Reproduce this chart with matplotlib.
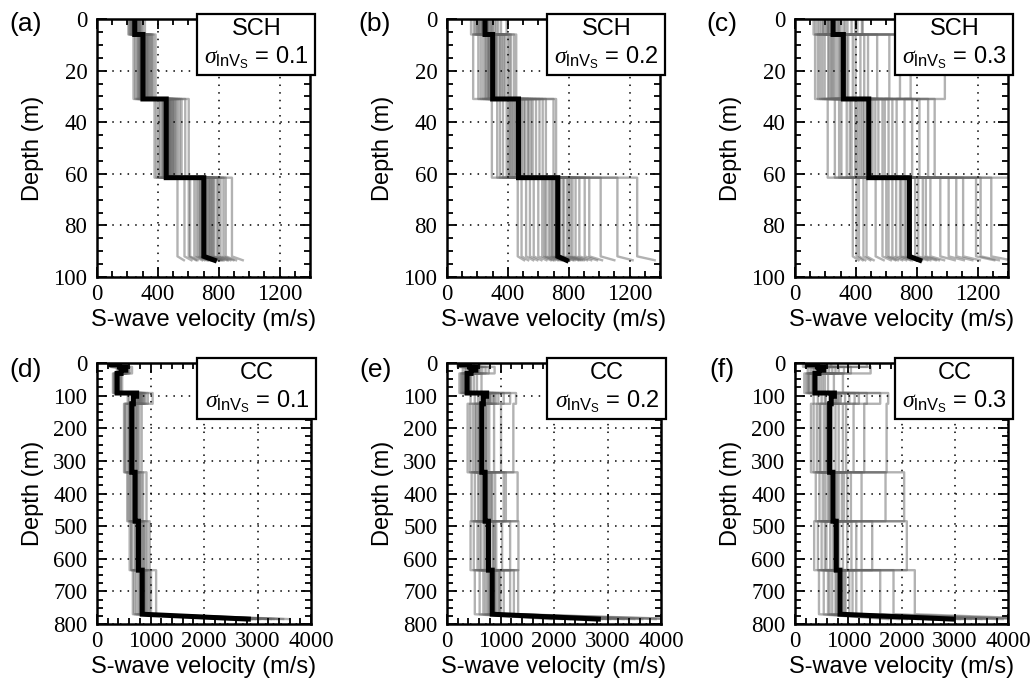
import matplotlib.pyplot as plt
from matplotlib.patches import Rectangle
from matplotlib.ticker import MultipleLocator

plt.rcParams['font.family'] = 'Liberation Sans'
plt.rcParams['mathtext.fontset'] = 'custom'
plt.rcParams['mathtext.rm'] = 'Liberation Sans'
plt.rcParams['mathtext.it'] = 'Liberation Serif:italic'

# ---------------- SCH site ----------------
# layer tops, base of last layer and half-space point (m)
sch_tops = [0, 6, 31, 61.5]
sch_base = 92
sch_hs_depth = 93.5

# median (black) profiles
sch_black_a = [248, 302, 455, 702]
sch_black_hs_a = 772
sch_black_b = [250, 300, 470, 728]
sch_black_hs_b = 785
sch_black_c = [250, 318, 485, 752]
sch_black_hs_c = 820

# randomized profiles, sigma = 0.1 (one list per layer)
a_l1 = [262, 231, 248, 285, 219, 256, 240, 301, 227, 270, 244, 259, 212, 278, 236, 251, 266, 223, 292, 247, 238, 274, 206, 255, 262, 229, 283, 243, 252, 315]
a_l2 = [318, 289, 340, 276, 301, 362, 295, 327, 251, 310, 284, 348, 306, 270, 331, 298, 385, 262, 314, 292, 356, 305, 279, 323, 240, 337, 300, 288, 371, 312]
a_l3 = [480, 432, 512, 455, 391, 498, 470, 556, 441, 427, 505, 462, 580, 414, 489, 451, 530, 476, 378, 466, 520, 447, 603, 485, 438, 497, 459, 544, 405, 473]
a_l4 = [735, 668, 790, 702, 612, 758, 846, 690, 725, 575, 812, 681, 739, 640, 772, 708, 887, 655, 746, 720, 529, 798, 695, 752, 831, 676, 713, 603, 765, 699]
a_hs = [795, 722, 853, 758, 661, 819, 914, 745, 783, 621, 877, 735, 798, 691, 834, 765, 958, 707, 806, 778, 571, 862, 751, 812, 897, 730, 770, 651, 826, 755]

# sigma = 0.2
b_l1 = [271, 214, 246, 312, 188, 263, 229, 355, 203, 287, 238, 255, 176, 301, 222, 249, 279, 196, 336, 242, 231, 294, 158, 258, 268, 210, 323, 236, 252, 392]
b_l2 = [330, 276, 382, 251, 305, 420, 289, 350, 206, 318, 268, 398, 309, 238, 362, 295, 455, 222, 325, 281, 410, 305, 258, 345, 172, 372, 300, 272, 440, 316]
b_l3 = [492, 405, 563, 448, 330, 537, 476, 650, 421, 392, 552, 460, 700, 368, 514, 437, 608, 483, 295, 470, 585, 430, 717, 505, 412, 531, 454, 629, 348, 478]
b_l4 = [760, 626, 870, 695, 520, 812, 1010, 668, 742, 465, 935, 650, 770, 570, 845, 715, 1250, 600, 790, 728, 490, 905, 680, 800, 1120, 640, 708, 545, 825, 690]
b_hs = [828, 682, 948, 757, 567, 885, 1100, 728, 808, 507, 1019, 708, 839, 621, 921, 779, 1365, 654, 861, 793, 534, 986, 741, 872, 1220, 698, 772, 594, 899, 752]

# sigma = 0.3
c_l1 = [285, 192, 243, 372, 150, 276, 214, 440, 176, 318, 226, 262, 135, 345, 205, 248, 300, 163, 410, 238, 218, 330, 122, 266, 290, 185, 395, 221, 255, 445]
c_l2 = [342, 238, 455, 195, 305, 620, 268, 398, 150, 330, 246, 540, 312, 180, 430, 284, 760, 165, 350, 255, 690, 300, 218, 380, 132, 480, 295, 226, 985, 322]
c_l3 = [510, 372, 640, 432, 262, 590, 480, 818, 395, 340, 615, 455, 918, 305, 548, 418, 720, 495, 215, 470, 668, 405, 875, 528, 360, 575, 445, 770, 290, 488]
c_l4 = [790, 575, 1010, 700, 420, 890, 1220, 640, 760, 380, 1105, 615, 810, 470, 955, 730, 1460, 530, 840, 745, 405, 1060, 665, 860, 1290, 600, 720, 450, 1190, 690]
c_hs = [870, 630, 1110, 770, 462, 980, 1340, 705, 836, 418, 1215, 676, 890, 517, 1050, 803, 1600, 583, 925, 820, 445, 1166, 731, 946, 1420, 660, 792, 495, 1310, 759]

# ---------------- CC site ----------------
cc_black_tops = [0, 5, 12, 22, 32, 92, 102, 125, 335, 485, 635]
cc_tops = [0, 12, 32, 92, 125, 335, 485, 635]
cc_base = 770
cc_hs_depth = 785

cc_black_d = [260, 420, 540, 450, 375, 740, 680, 650, 712, 775, 845]
cc_black_hs_d = 2830
cc_black_e = [260, 420, 540, 450, 375, 740, 680, 650, 712, 775, 845]
cc_black_hs_e = 2830
cc_black_f = [260, 420, 540, 450, 375, 740, 680, 650, 712, 775, 845]
cc_black_hs_f = 2960

# sigma = 0.1
d_l1 = [335, 290, 372, 258, 318, 410, 345, 300, 452, 326, 281, 360, 395, 270, 338, 309, 428, 352, 247, 330]
d_l2 = [480, 560, 415, 525, 610, 455, 505, 372, 540, 470, 655, 498, 430, 590, 512, 395, 548, 462, 520, 445]
d_l3 = [382, 350, 418, 330, 371, 445, 360, 395, 312, 388, 470, 366, 342, 405, 377, 298, 392, 355, 432, 368]
d_l4 = [790, 720, 880, 655, 815, 950, 745, 830, 600, 770, 1040, 805, 700, 860, 760, 575, 840, 735, 905, 780]
d_l5 = [660, 598, 725, 540, 680, 790, 620, 700, 505, 645, 835, 672, 580, 745, 635, 520, 690, 612, 760, 650]
d_l6 = [705, 780, 640, 742, 860, 690, 725, 590, 805, 715, 925, 668, 750, 615, 828, 700, 565, 765, 680, 735]
d_l7 = [790, 720, 860, 650, 805, 940, 745, 820, 610, 770, 985, 800, 700, 880, 760, 640, 835, 735, 905, 780]
d_l8 = [840, 930, 775, 880, 1010, 820, 865, 700, 960, 850, 1105, 800, 895, 735, 985, 845, 670, 910, 815, 870]
d_hs = [2900, 3250, 2620, 3050, 3600, 2780, 2950, 2350, 3380, 2840, 2480, 3150, 2700, 3480, 2880, 2550, 3020, 2760, 3300, 2820]

# sigma = 0.2
e_l1 = [345, 260, 410, 225, 318, 505, 290, 372, 198, 336, 455, 305, 272, 398, 350, 615, 312, 240, 380, 330]
e_l2 = [470, 620, 360, 540, 780, 420, 505, 295, 575, 455, 890, 490, 395, 660, 520, 340, 600, 445, 720, 480]
e_l3 = [380, 300, 452, 262, 360, 560, 330, 410, 232, 385, 505, 345, 312, 435, 392, 645, 355, 280, 420, 370]
e_l4 = [800, 620, 960, 520, 760, 1180, 690, 860, 440, 820, 1060, 720, 650, 910, 790, 1290, 740, 580, 880, 770]
e_l5 = [655, 520, 790, 430, 630, 1010, 575, 710, 385, 670, 880, 600, 545, 750, 640, 1240, 615, 480, 730, 650]
e_l6 = [720, 850, 580, 780, 1060, 640, 745, 460, 810, 700, 1320, 690, 610, 900, 760, 520, 1100, 660, 830, 712]
e_l7 = [790, 610, 920, 500, 760, 1180, 690, 850, 440, 800, 1030, 720, 640, 890, 780, 1335, 740, 570, 870, 770]
e_l8 = [860, 1000, 680, 920, 1250, 760, 880, 520, 960, 830, 1330, 810, 720, 1060, 900, 610, 1180, 780, 980, 845]
e_hs = [2900, 3500, 2300, 3150, 4200, 2600, 3000, 1950, 3300, 2800, 4400, 2750, 2450, 3650, 3050, 2150, 3900, 2650, 3400, 2850]

# sigma = 0.3
f_l1 = [360, 240, 470, 185, 320, 680, 270, 410, 150, 345, 560, 295, 225, 440, 380, 1350, 305, 205, 500, 330]
f_l2 = [480, 760, 330, 590, 1050, 390, 520, 240, 640, 455, 1420, 470, 360, 820, 540, 290, 700, 420, 920, 500]
f_l3 = [390, 270, 520, 215, 350, 730, 310, 440, 175, 380, 620, 330, 260, 480, 400, 900, 345, 240, 560, 372]
f_l4 = [830, 560, 1120, 430, 760, 1600, 660, 940, 350, 860, 1350, 710, 580, 1020, 800, 1750, 740, 500, 1200, 780]
f_l5 = [670, 460, 900, 350, 620, 1300, 540, 760, 300, 700, 1100, 580, 480, 820, 650, 1720, 600, 410, 960, 640]
f_l6 = [740, 980, 520, 820, 1250, 610, 760, 390, 880, 700, 1700, 660, 560, 1050, 790, 460, 2050, 640, 920, 712]
f_l7 = [800, 560, 1060, 430, 760, 1450, 660, 900, 360, 830, 1250, 710, 590, 980, 790, 2100, 740, 500, 1150, 775]
f_l8 = [870, 1150, 620, 950, 1600, 700, 900, 450, 1020, 820, 2250, 780, 650, 1250, 930, 540, 1850, 760, 1080, 845]
f_hs = [2950, 3900, 2100, 3300, 4500, 2500, 3100, 1750, 3500, 2800, 4800, 2650, 2300, 3800, 3150, 1950, 4300, 2600, 3600, 2900]

sites = ['SCH', 'SCH', 'SCH', 'CC', 'CC', 'CC']
sigmas = ['0.1', '0.2', '0.3', '0.1', '0.2', '0.3']
panel_labels = ['(a)', '(b)', '(c)', '(d)', '(e)', '(f)']


def profile_xy(tops, base, hs_depth, vs, v_hs):
    xs, ys = [], []
    bottoms = list(tops[1:]) + [base]
    for top, bot, v in zip(tops, bottoms, vs):
        xs += [v, v]
        ys += [top, bot]
    xs.append(v_hs)
    ys.append(hs_depth)
    return xs, ys


panels = [
    (sch_tops, sch_base, sch_hs_depth, [a_l1, a_l2, a_l3, a_l4], a_hs, sch_tops, sch_black_a, sch_black_hs_a),
    (sch_tops, sch_base, sch_hs_depth, [b_l1, b_l2, b_l3, b_l4], b_hs, sch_tops, sch_black_b, sch_black_hs_b),
    (sch_tops, sch_base, sch_hs_depth, [c_l1, c_l2, c_l3, c_l4], c_hs, sch_tops, sch_black_c, sch_black_hs_c),
    (cc_tops, cc_base, cc_hs_depth, [d_l1, d_l2, d_l3, d_l4, d_l5, d_l6, d_l7, d_l8], d_hs, cc_black_tops, cc_black_d, cc_black_hs_d),
    (cc_tops, cc_base, cc_hs_depth, [e_l1, e_l2, e_l3, e_l4, e_l5, e_l6, e_l7, e_l8], e_hs, cc_black_tops, cc_black_e, cc_black_hs_e),
    (cc_tops, cc_base, cc_hs_depth, [f_l1, f_l2, f_l3, f_l4, f_l5, f_l6, f_l7, f_l8], f_hs, cc_black_tops, cc_black_f, cc_black_hs_f),
]

# axes positions in pixels (left, top, right, bottom) for a 1034x687 figure
W, H = 1034, 687
boxes = [(97, 19, 310, 277), (447, 19, 660, 277), (795, 19, 1008, 277),
         (97, 363, 311, 624), (447, 363, 661, 624), (795, 363, 1008, 624)]
label_xy = [(26, 24), (375, 24), (722, 24), (26, 370), (376, 370), (722, 370)]

fig = plt.figure(figsize=(W / 100, H / 100), dpi=100)

for i, (tops, base, hs_d, layers, hs, btops, black, black_hs) in enumerate(panels):
    l, t, r, b = boxes[i]
    ax = fig.add_axes([l / W, 1 - b / H, (r - l) / W, (b - t) / H])

    # gray realizations
    for k in range(len(hs)):
        xs, ys = profile_xy(tops, base, hs_d, [lay[k] for lay in layers], hs[k])
        ax.plot(xs, ys, color='0.4', lw=1.7, alpha=0.5, zorder=1)

    # median profile
    xs, ys = profile_xy(btops, base, hs_d, black, black_hs)
    ax.plot(xs, ys, color='k', lw=3.6, zorder=4, solid_joinstyle='miter')

    if i < 3:
        ax.set_xlim(0, 1400)
        ax.set_ylim(100, 0)
        ax.xaxis.set_major_locator(MultipleLocator(400))
        ax.xaxis.set_minor_locator(MultipleLocator(100))
        ax.yaxis.set_major_locator(MultipleLocator(20))
        ax.yaxis.set_minor_locator(MultipleLocator(5))
    else:
        ax.set_xlim(0, 4000)
        ax.set_ylim(800, 0)
        ax.xaxis.set_major_locator(MultipleLocator(1000))
        ax.xaxis.set_minor_locator(MultipleLocator(200))
        ax.yaxis.set_major_locator(MultipleLocator(100))
        ax.yaxis.set_minor_locator(MultipleLocator(25))

    ax.set_axisbelow(False)
    ax.grid(True, which='major', color='k', linestyle=(0, (1, 4)), lw=1.1)
    ax.tick_params(which='both', direction='in', top=True, right=True,
                   labelfontfamily='Liberation Serif', labelsize=16.5, width=1.3)
    ax.tick_params(which='major', length=7)
    ax.tick_params(which='minor', length=4)
    ax.tick_params(axis='y', pad=7)
    ax.tick_params(axis='x', pad=5)
    for s in ax.spines.values():
        s.set_linewidth(1.8)

    ax.set_xlabel('S-wave velocity (m/s)', fontsize=17, labelpad=3)
    ax.set_ylabel('Depth (m)', fontsize=17)
    ax.yaxis.set_label_coords(-0.25, 0.5)

    # annotation box
    bh = 61 / (b - t)
    ytop = 1 + 5 / (b - t)
    ax.add_patch(Rectangle((0.468, ytop - bh), 0.556, bh, transform=ax.transAxes,
                           facecolor='white', edgecolor='k', lw=1.6,
                           clip_on=False, zorder=6))
    ax.text(0.748, ytop - 0.24 * bh, sites[i], transform=ax.transAxes,
            ha='center', va='center', fontsize=17, zorder=7)
    ax.text(0.748, ytop - 0.72 * bh,
            r'$\sigma_{\mathrm{lnV}_{\mathrm{S}}}$ = ' + sigmas[i],
            transform=ax.transAxes, ha='center', va='center', fontsize=17, zorder=7)

    fig.text(label_xy[i][0] / W, 1 - label_xy[i][1] / H, panel_labels[i],
             ha='center', va='center', fontsize=19)

fig.savefig('out.png', dpi=100)
